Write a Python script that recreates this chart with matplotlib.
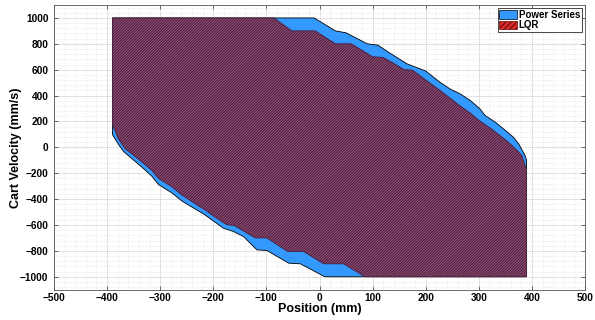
import matplotlib
matplotlib.use("Agg")
import matplotlib.pyplot as plt
from matplotlib.patches import Patch
from matplotlib.ticker import MultipleLocator

plt.rcParams['font.family'] = ['Liberation Sans', 'DejaVu Sans']
plt.rcParams['hatch.linewidth'] = 0.8

# Power Series region boundary (Position mm, Velocity mm/s)
ps_x = [-390, -10, 30, 50, 90, 110, 130, 165, 200, 227, 246, 265, 284, 302, 312, 331, 350, 365, 375, 387, 390,
        390, 10, -36, -58, -99, -118, -143, -162, -181, -218, -243, -259, -278, -303, -316, -334, -353, -369, -379, -390]
ps_y = [1000, 1000, 900, 885, 800, 790, 735, 645, 590, 503, 451, 413, 362, 298, 246, 195, 131, 79, 28, -62, -100,
        -1000, -1000, -900, -895, -797, -792, -690, -650, -625, -515, -455, -415, -352, -288, -222, -155, -88, -32, 25, 100]

# LQR region boundary
lqr_x = [-390, -86, -52, -8, 30, 60, 100, 120, 160, 175, 202, 227, 246, 265, 284, 303, 322, 340, 359, 372, 381, 390,
         390, 86, 45, 8, -30, -60, -99, -121, -160, -175, -200, -215, -240, -259, -278, -303, -316, -331, -350, -366, -379, -390]
lqr_y = [1000, 1000, 900, 900, 800, 800, 700, 695, 600, 597, 515, 440, 380, 320, 265, 200, 148, 92, 28, -23, -62, -177,
         -1000, -1000, -900, -900, -805, -805, -700, -700, -605, -597, -530, -485, -420, -369, -305, -241, -177, -125, -62, -10, 67, 180]

x_ticks = [-500, -400, -300, -200, -100, 0, 100, 200, 300, 400, 500]
y_ticks = [-1000, -800, -600, -400, -200, 0, 200, 400, 600, 800, 1000]
series_names = ['Power Series', 'LQR']

fig = plt.figure(figsize=(5.95, 3.2), dpi=100)
ax = fig.add_axes([54/595, 1 - 289.7/320, 531/595, 284.7/320])

ps_color = '#3399ff'
lqr_face = '#a8567f'
lqr_hatch = '#45203f'

ax.fill(ps_x, ps_y, facecolor=ps_color, edgecolor='black', linewidth=0.6, zorder=2)
ax.fill(lqr_x, lqr_y, facecolor=lqr_face, edgecolor=lqr_hatch, hatch='////////////', linewidth=0.6, zorder=3)

ax.set_xlim(-500, 500)
ax.set_ylim(-1100, 1100)
ax.set_xticks(x_ticks)
ax.set_yticks(y_ticks)
ax.xaxis.set_minor_locator(MultipleLocator(20))
ax.yaxis.set_minor_locator(MultipleLocator(40))
ax.set_axisbelow(True)
ax.grid(which='major', color='#d4d4d4', linewidth=0.5, linestyle='-')
ax.grid(which='minor', color='#dcdcdc', linewidth=0.5, linestyle=':')

ax.tick_params(which='major', direction='in', top=True, right=True, length=3, width=0.5,
               labelsize=7.3, color='#333333')
ax.tick_params(axis='x', which='major', pad=2.5)
ax.tick_params(axis='y', which='major', pad=4)
ax.tick_params(which='minor', length=0, top=True, right=True)
for lbl in ax.get_xticklabels() + ax.get_yticklabels():
    lbl.set_fontweight('bold')
for sp in ax.spines.values():
    sp.set_linewidth(0.6)
    sp.set_color('#555555')

ax.set_xlabel('Position (mm)', fontsize=9, fontweight='bold')
ax.set_ylabel('Cart Velocity (mm/s)', fontsize=9, fontweight='bold')
ax.xaxis.set_label_coords(0.5, -0.045)
ax.yaxis.set_label_coords(-0.06, 0.5)

handles = [Patch(facecolor=ps_color, edgecolor='black', linewidth=0.5),
           Patch(facecolor='#d92a2a', edgecolor='#6a0a0a', hatch='//////', linewidth=0.5)]
leg = ax.legend(handles, series_names, loc='upper right', prop={'weight': 'bold', 'size': 7},
                frameon=True, fancybox=False, framealpha=1, edgecolor='black',
                borderaxespad=0.35, borderpad=0.15, handlelength=1.8, handleheight=0.9,
                handletextpad=0.2, labelspacing=0.05)
leg.get_frame().set_linewidth(0.5)

fig.savefig('out.png', dpi=100)
